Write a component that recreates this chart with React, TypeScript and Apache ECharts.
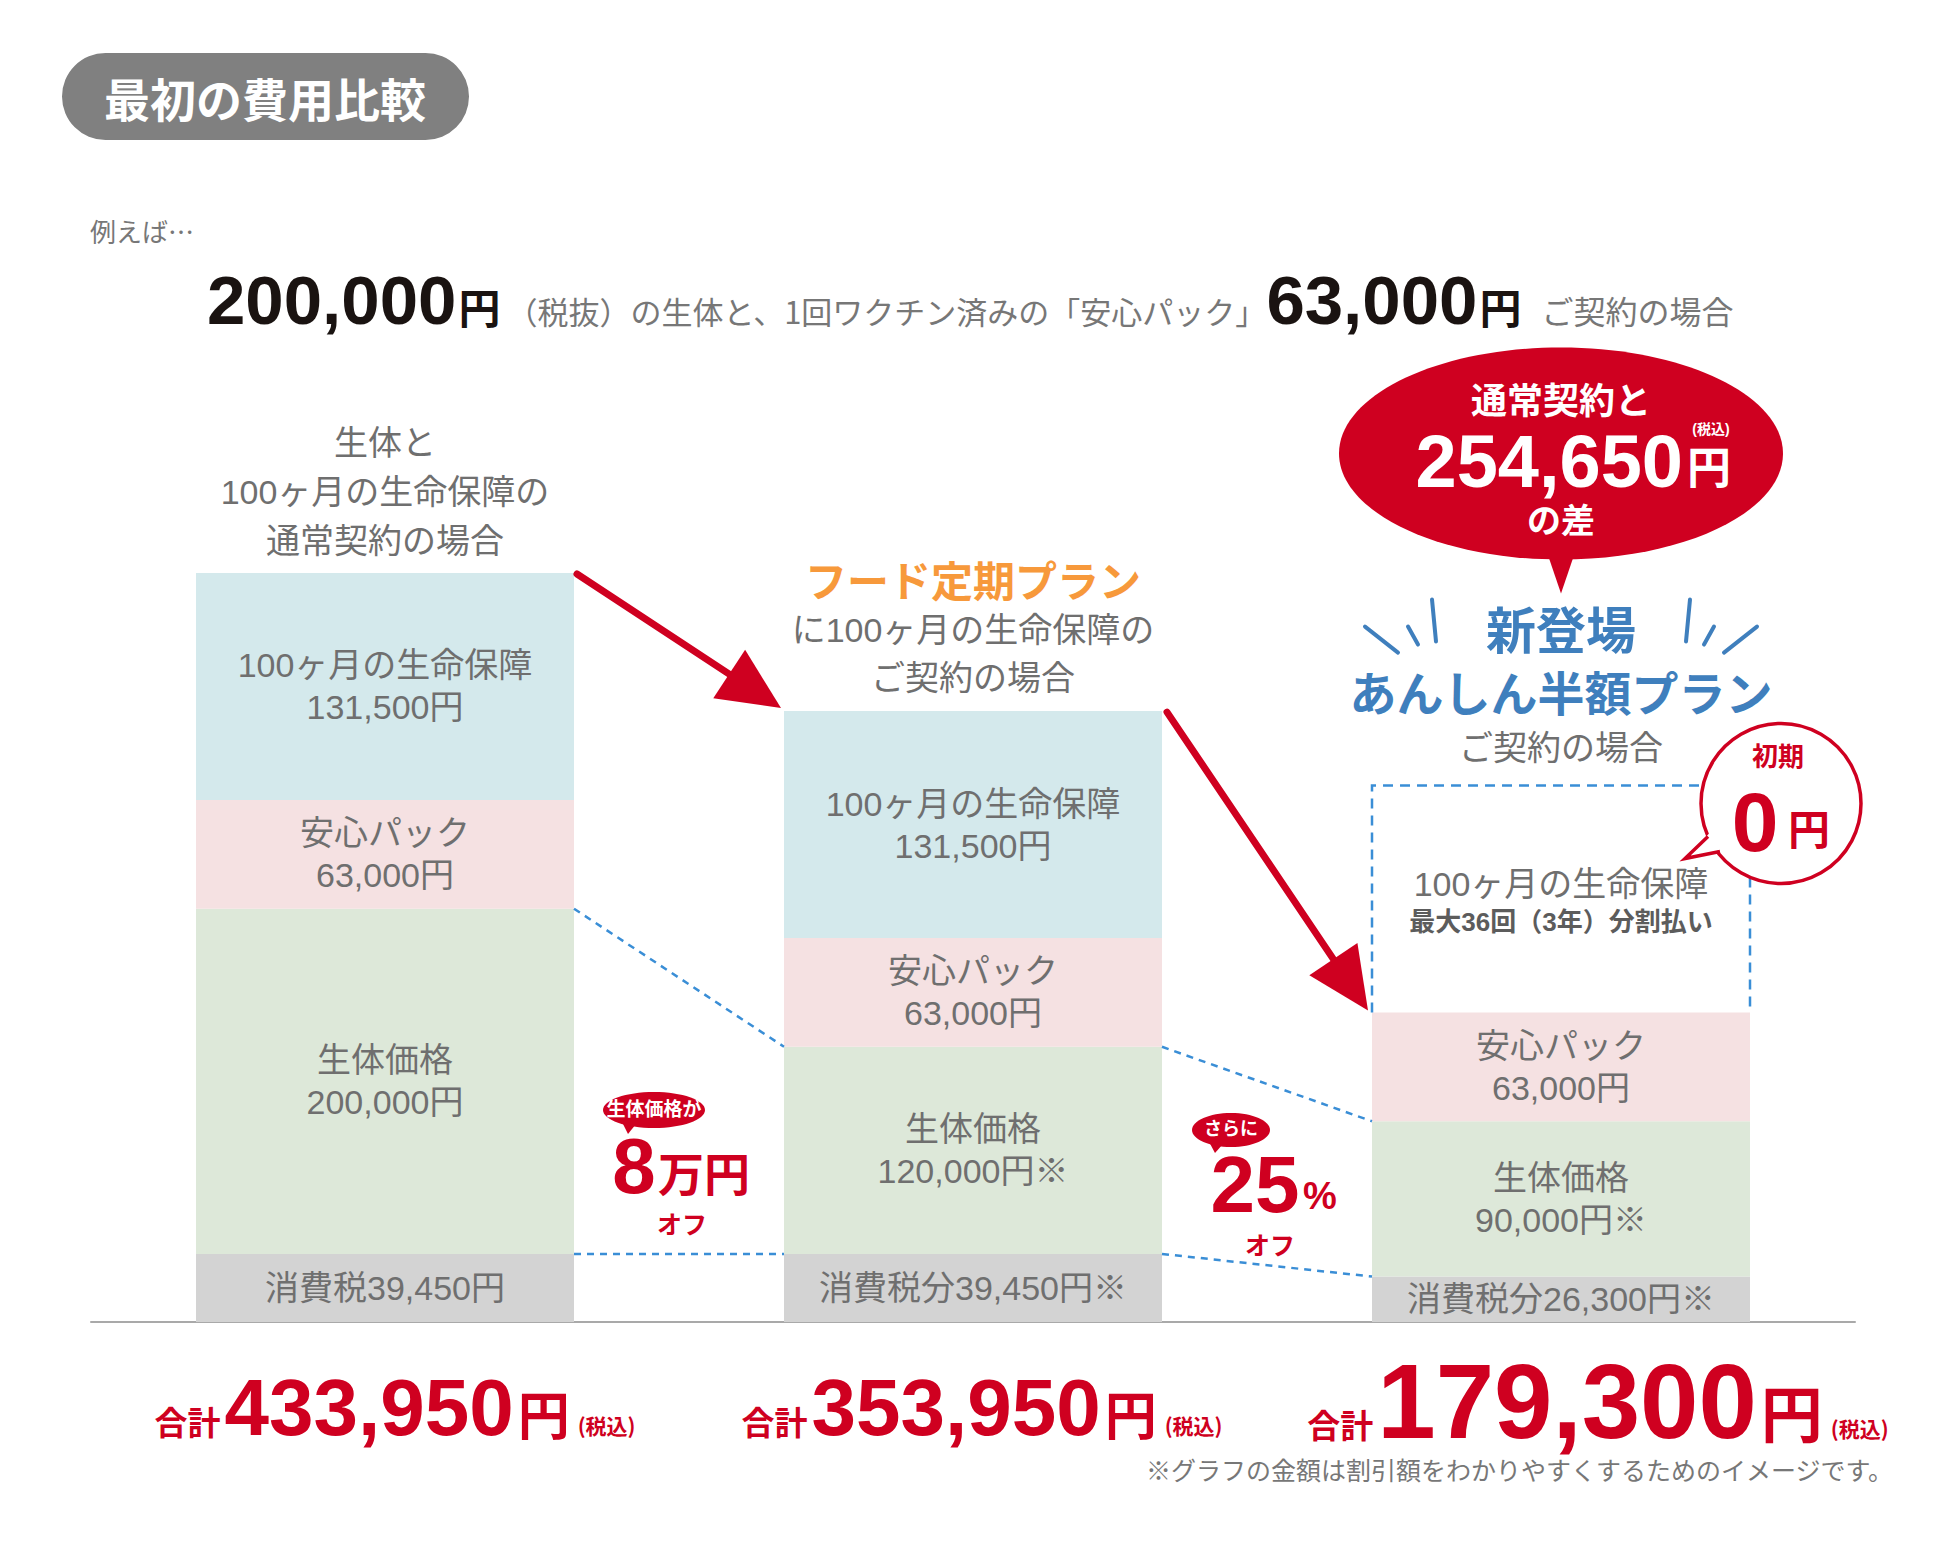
import React, { useEffect, useRef } from "react";
import * as echarts from "echarts";

// ---------- data ----------
const categories = ["通常契約", "フード定期プラン", "あんしん半額プラン"];
const taxValues = [39450, 39450, 26300];
const petValues = [200000, 120000, 90000];
const packValues = [63000, 63000, 63000];
const insuranceValues = [131500, 131500, 131500];
const deferredInsurance = [false, false, true];
const taxNames = ["消費税", "消費税分", "消費税分"];
const estimateMarks = ["", "※", "※"];
const totalValues = [433950, 353950, 179300];
const savingValue = 254650;
const examplePetPrice = 200000;
const examplePackPrice = 63000;
const petDiscountMan = 8;
const extraDiscountPercent = 25;
const initialCost = 0;
const installmentNote = "最大36回（3年）分割払い";

// ---------- styles ----------
const FONT = '"Noto Sans CJK JP", "Noto Sans", sans-serif';
const LFONT = '"Liberation Sans", "Noto Sans CJK JP", sans-serif';
const NUM = '"Liberation Sans", Arial, sans-serif';
const GRAY = "#6f6f6f";
const RED = "#cf0020";
const BLUE = "#3f7fbd";
const DASH_BLUE = "#3a8ed6";
const ORANGE = "#f7993b";
const BAR_W = 378;
const HALF = BAR_W / 2;

const fmt = (v: number) => v.toLocaleString("en-US");

const labelStyle = {
  show: true,
  position: "inside",
  color: GRAY,
  fontFamily: LFONT,
  fontWeight: "normal",
  fontSize: 34,
  lineHeight: 42,
  textBorderWidth: 0,
};

const paidTop = (i: number) => taxValues[i] + petValues[i] + packValues[i];

function renderConnector(params: any, api: any) {
  const p1 = api.coord([api.value(0), api.value(1)]);
  const p2 = api.coord([api.value(2), api.value(3)]);
  return {
    type: "line",
    shape: { x1: p1[0] + HALF, y1: p1[1], x2: p2[0] - HALF, y2: p2[1] },
    style: { stroke: DASH_BLUE, lineWidth: 2.5, lineDash: [7, 6] },
  };
}

function renderDeferred(params: any, api: any) {
  const i = api.value(0);
  const b = api.coord([i, api.value(1)]);
  const t = api.coord([i, api.value(2)]);
  const x0 = b[0] - HALF;
  const x1 = b[0] + HALF;
  const cy = (b[1] + t[1]) / 2;
  return {
    type: "group",
    children: [
      {
        type: "polyline",
        shape: { points: [[x0, b[1]], [x0, t[1]], [x1, t[1]], [x1, b[1]]] },
        style: { stroke: DASH_BLUE, lineWidth: 2.5, lineDash: [10, 7], fill: "none" },
      },
      {
        type: "text",
        x: b[0],
        y: cy - 15,
        style: {
          text: "100ヶ月の生命保障",
          align: "center",
          verticalAlign: "middle",
          fontSize: 34,
          fontFamily: LFONT,
          fontWeight: "normal",
          fill: GRAY,
        },
      },
      {
        type: "text",
        x: b[0],
        y: cy + 23,
        style: {
          text: installmentNote,
          align: "center",
          verticalAlign: "middle",
          fontSize: 26,
          fontFamily: LFONT,
          fontWeight: "bold",
          fill: "#5c5c5c",
        },
      },
    ],
  };
}

function buildOption() {
  const connectorData: number[][] = [];
  for (let i = 0; i < categories.length - 1; i++) {
    connectorData.push([i, taxValues[i] + petValues[i], i + 1, taxValues[i + 1] + petValues[i + 1]]);
    connectorData.push([i, taxValues[i], i + 1, taxValues[i + 1]]);
  }
  const deferredData = insuranceValues
    .map((v, i) => (deferredInsurance[i] ? [i, paidTop(i), paidTop(i) + v] : null))
    .filter(Boolean);

  return {
    animation: false,
    backgroundColor: "#ffffff",
    grid: { left: 91, right: 85, top: 459, bottom: 226 },
    xAxis: {
      type: "category",
      data: categories,
      axisLine: { show: true, lineStyle: { color: "#a9a9a9", width: 2 } },
      axisTick: { show: false },
      axisLabel: { show: false },
      splitLine: { show: false },
    },
    yAxis: { type: "value", min: 0, max: 500000, show: false, splitLine: { show: false } },
    series: [
      {
        name: "消費税",
        type: "bar",
        stack: "cost",
        barWidth: BAR_W,
        data: taxValues,
        itemStyle: { color: "#d3d3d3" },
        label: {
          ...labelStyle,
          formatter: (p: any) => `${taxNames[p.dataIndex]}${fmt(p.value)}円${estimateMarks[p.dataIndex]}`,
        },
      },
      {
        name: "生体価格",
        type: "bar",
        stack: "cost",
        barWidth: BAR_W,
        data: petValues,
        itemStyle: { color: "#dde8d9" },
        label: {
          ...labelStyle,
          formatter: (p: any) => `生体価格\n${fmt(p.value)}円${estimateMarks[p.dataIndex]}`,
        },
      },
      {
        name: "安心パック",
        type: "bar",
        stack: "cost",
        barWidth: BAR_W,
        data: packValues,
        itemStyle: { color: "#f5e1e2" },
        label: { ...labelStyle, formatter: (p: any) => `安心パック\n${fmt(p.value)}円` },
      },
      {
        name: "100ヶ月の生命保障",
        type: "bar",
        stack: "cost",
        barWidth: BAR_W,
        data: insuranceValues.map((v, i) => (deferredInsurance[i] ? "-" : v)),
        itemStyle: { color: "#d4e9ec" },
        label: { ...labelStyle, formatter: (p: any) => `100ヶ月の生命保障\n${fmt(p.value)}円` },
      },
      {
        name: "deferred",
        type: "custom",
        renderItem: renderDeferred,
        data: deferredData,
        z: 3,
      },
      {
        name: "connectors",
        type: "custom",
        renderItem: renderConnector,
        data: connectorData,
        z: 3,
      },
    ],
  };
}

function txt(text: string, x: number, y: number, size: number, fill: string, extra: any = {}) {
  return {
    type: "text",
    z: 20,
    x,
    y,
    style: {
      text,
      fontSize: size,
      fontFamily: extra.family || FONT,
      fontWeight: extra.weight ?? "normal",
      fill,
      align: extra.align || "center",
      verticalAlign: extra.va || "middle",
      lineHeight: extra.lh,
      rich: extra.rich,
    },
  };
}

function arrow(x1: number, y1: number, x2: number, y2: number) {
  const dx = x2 - x1;
  const dy = y2 - y1;
  const len = Math.hypot(dx, dy);
  const ux = dx / len;
  const uy = dy / len;
  const nx = -uy;
  const ny = ux;
  const hl = 62;
  const hw = 29;
  const bx = x2 - ux * hl;
  const by = y2 - uy * hl;
  return [
    {
      type: "line",
      z: 15,
      shape: { x1, y1, x2: bx + ux * 6, y2: by + uy * 6 },
      style: { stroke: RED, lineWidth: 7, lineCap: "round" },
    },
    {
      type: "polygon",
      z: 15,
      shape: { points: [[x2, y2], [bx + nx * hw, by + ny * hw], [bx - nx * hw, by - ny * hw]] },
      style: { fill: RED },
    },
  ];
}

function buildGraphics(chart: any) {
  const px = (i: number, v: number) => chart.convertToPixel({ seriesIndex: 0 }, [i, v]) as number[];
  const cx = (i: number) => px(i, 0)[0];
  const baseY = px(0, 0)[1];
  const fullTop = (i: number) => paidTop(i) + (deferredInsurance[i] ? 0 : insuranceValues[i]);
  const topY = (i: number) => px(i, fullTop(i))[1];
  const boxTopY = (i: number) => px(i, paidTop(i) + insuranceValues[i])[1];
  const payY = (i: number) => px(i, paidTop(i))[1];

  const els: any[] = [];

  // title badge
  els.push({ type: "rect", z: 10, shape: { x: 62, y: 53, width: 407, height: 87, r: 43.5 }, style: { fill: "#808080" } });
  els.push(txt("最初の費用比較", 265, 97, 46, "#ffffff", { weight: "bold" }));

  // intro
  els.push(txt("例えば…", 90, 230, 26, "#777777", { align: "left" }));
  els.push(
    txt(
      `{n|${fmt(examplePetPrice)}}{y|円}{g|（税抜）の生体と、1回ワクチン済みの「安心パック」}{n|${fmt(examplePackPrice)}}{y|円}{h|ご契約の場合}`,
      207,
      300,
      30,
      "#777777",
      {
        align: "left",
        rich: {
          n: { fontFamily: NUM, fontWeight: "bold", fontSize: 69, lineHeight: 69, fill: "#1a1311", verticalAlign: "bottom" },
          y: { fontFamily: FONT, fontWeight: "bold", fontSize: 42, lineHeight: 42, fill: "#1a1311", verticalAlign: "bottom", padding: [0, 6, 8, 2] },
          g: { fontFamily: FONT, fontWeight: "normal", fontSize: 31, lineHeight: 31, fill: "#777777", verticalAlign: "bottom", padding: [0, 0, 9, 0] },
          h: { fontFamily: FONT, fontWeight: "normal", fontSize: 32, lineHeight: 32, fill: "#777777", verticalAlign: "bottom", padding: [0, 0, 9, 14] },
        },
      }
    )
  );

  // bar 1 heading
  const t0 = topY(0);
  els.push(txt("生体と\n100ヶ月の生命保障の\n通常契約の場合", cx(0), t0 - 8, 34, GRAY, { va: "bottom", lh: 49, family: LFONT }));

  // bar 2 heading
  const t1 = topY(1);
  els.push(txt("フード定期プラン", cx(1), t1 - 133, 42, ORANGE, { weight: "bold" }));
  els.push(txt("に100ヶ月の生命保障の\nご契約の場合", cx(1), t1 - 9, 34, GRAY, { va: "bottom", lh: 48, family: LFONT }));

  // bar 3 heading
  const c2 = cx(2);
  const bt = boxTopY(2);
  els.push(txt("ご契約の場合", c2, bt - 38, 34, GRAY, { family: LFONT }));
  els.push(txt("あんしん半額プラン", c2, bt - 91, 47, BLUE, { weight: "bold", family: LFONT }));
  els.push(txt("新登場", c2, bt - 154, 50, BLUE, { weight: "bold", family: LFONT }));
  const sparks = [
    [-196, -159, -163, -133],
    [-153, -159, -143, -141],
    [-129, -186, -125, -144],
  ];
  sparks.forEach(([a, b, c, d]) => {
    els.push({ type: "line", z: 10, shape: { x1: c2 + a, y1: bt + b, x2: c2 + c, y2: bt + d }, style: { stroke: BLUE, lineWidth: 4, lineCap: "round" } });
    els.push({ type: "line", z: 10, shape: { x1: c2 - a, y1: bt + b, x2: c2 - c, y2: bt + d }, style: { stroke: BLUE, lineWidth: 4, lineCap: "round" } });
  });

  // saving bubble
  const ey = bt - 332;
  els.push({ type: "ellipse", z: 10, shape: { cx: c2, cy: ey, rx: 222, ry: 106 }, style: { fill: RED } });
  els.push({ type: "polygon", z: 10, shape: { points: [[c2 - 17, ey + 90], [c2 + 17, ey + 90], [c2, ey + 140]] }, style: { fill: RED } });
  els.push(txt("通常契約と", c2, bt - 384, 36, "#ffffff", { weight: "bold", family: LFONT }));
  els.push(txt(fmt(savingValue), c2 + 122, bt - 287, 74, "#ffffff", { weight: "bold", family: NUM, align: "right", va: "bottom" }));
  els.push(txt("円", c2 + 148, bt - 317, 44, "#ffffff", { weight: "bold", family: LFONT }));
  els.push(txt("(税込)", c2 + 150, bt - 357, 14, "#ffffff", { weight: "bold", family: LFONT }));
  els.push(txt("の差", c2, bt - 265, 34, "#ffffff", { weight: "bold", family: LFONT }));

  // initial 0 yen bubble
  const ccx = c2 + 220;
  const ccy = bt + 18;
  els.push({ type: "circle", z: 16, shape: { cx: ccx, cy: ccy, r: 80 }, style: { fill: "#ffffff", stroke: RED, lineWidth: 3.5 } });
  els.push({ type: "polygon", z: 17, shape: { points: [[ccx - 70, ccy + 28], [ccx - 96, ccy + 55], [ccx - 58, ccy + 46]] }, style: { fill: "#ffffff" } });
  els.push({ type: "polyline", z: 17, shape: { points: [[ccx - 73, ccy + 33], [ccx - 96, ccy + 55], [ccx - 61, ccy + 48]] }, style: { stroke: RED, lineWidth: 3.5, fill: "none", lineJoin: "miter" } });
  els.push(txt("初期", ccx - 3, ccy - 47, 26, RED, { weight: "bold", family: LFONT }));
  els.push(txt(String(initialCost), ccx - 26, ccy + 18, 84, RED, { weight: "bold", family: NUM }));
  els.push(txt("円", ccx + 28, ccy + 27, 42, RED, { weight: "bold", family: LFONT }));

  // arrows
  els.push(...arrow(cx(0) + HALF + 3, t0 + 1, cx(1) - HALF - 3, t1 - 3));
  els.push(...arrow(cx(1) + HALF + 5, t1 + 1, c2 - HALF - 4, payY(2) - 2));

  // discount annotations
  const m01 = (cx(0) + HALF + cx(1) - HALF) / 2;
  const b1x = m01 - 25;
  const b1y = baseY - 212;
  els.push({ type: "polygon", z: 10, shape: { points: [[b1x - 34, b1y + 8], [b1x - 18, b1y + 14], [b1x - 26, b1y + 24]] }, style: { fill: RED } });
  els.push({ type: "ellipse", z: 10, shape: { cx: b1x, cy: b1y, rx: 51, ry: 18 }, style: { fill: RED } });
  els.push(txt("生体価格が", b1x, b1y - 1, 19, "#ffffff", { weight: "bold", family: LFONT }));
  els.push(txt(String(petDiscountMan), m01 - 45, baseY - 156, 78, RED, { weight: "bold", family: NUM }));
  els.push(txt("万円", m01 + 25, baseY - 147, 46, RED, { weight: "bold", family: LFONT }));
  els.push(txt("オフ", m01 + 3, baseY - 97, 25, RED, { weight: "bold", family: LFONT }));

  const m12 = (cx(1) + HALF + c2 - HALF) / 2;
  const b2x = m12 - 36;
  const b2y = baseY - 192;
  els.push({ type: "polygon", z: 10, shape: { points: [[b2x - 24, b2y + 8], [b2x - 8, b2y + 14], [b2x - 16, b2y + 23]] }, style: { fill: RED } });
  els.push({ type: "ellipse", z: 10, shape: { cx: b2x, cy: b2y, rx: 39, ry: 17 }, style: { fill: RED } });
  els.push(txt("さらに", b2x, b2y - 1, 18, "#ffffff", { weight: "bold", family: LFONT }));
  els.push(txt(String(extraDiscountPercent), m12 - 12, baseY - 138, 80, RED, { weight: "bold", family: NUM }));
  els.push(txt("%", m12 + 53, baseY - 126, 38, RED, { weight: "bold", family: NUM }));
  els.push(txt("オフ", m12 + 3, baseY - 76, 25, RED, { weight: "bold", family: LFONT }));

  // totals
  const totalSpecs = [
    { dx: 10, num: 80, yen: 52, bottom: 1447 },
    { dx: 9, num: 80, yen: 52, bottom: 1447 },
    { dx: 37, num: 105, yen: 62, bottom: 1454 },
  ];
  totalValues.forEach((v, i) => {
    const s = totalSpecs[i];
    const base = 0.1535 * s.num;
    els.push(
      txt(`{a|合計}{n|${fmt(v)}}{y|円}{t|(税込)}`, cx(i) + s.dx, s.bottom, 30, RED, {
        va: "bottom",
        rich: {
          a: { fontFamily: FONT, fontWeight: "bold", fontSize: 33, lineHeight: 33, fill: RED, verticalAlign: "bottom", padding: [0, 4, Math.round(base - 2), 0] },
          n: { fontFamily: NUM, fontWeight: "bold", fontSize: s.num, lineHeight: s.num, fill: RED, verticalAlign: "bottom" },
          y: { fontFamily: FONT, fontWeight: "bold", fontSize: s.yen, lineHeight: s.yen, fill: RED, verticalAlign: "bottom", padding: [0, 8, Math.round(base - 0.064 * s.yen), 4] },
          t: { fontFamily: FONT, fontWeight: "bold", fontSize: 21, lineHeight: 21, fill: RED, verticalAlign: "bottom", padding: [0, 0, Math.round(base), 0] },
        },
      })
    );
  });

  // footnote
  els.push(txt("※グラフの金額は割引額をわかりやすくするためのイメージです。", 1893, 1471, 25, "#777777", { align: "right", family: LFONT }));

  return els;
}

export default function App() {
  const ref = useRef<HTMLDivElement>(null);
  useEffect(() => {
    if (!ref.current) return;
    const chart = echarts.init(ref.current, null, { renderer: "svg" });
    chart.setOption(buildOption() as any);
    chart.setOption({ graphic: buildGraphics(chart) } as any);
    return () => chart.dispose();
  }, []);
  return (
    <div
      ref={ref}
      style={{ position: "fixed", left: 0, top: 0, width: 1940, height: 1548, background: "#ffffff" }}
    />
  );
}
